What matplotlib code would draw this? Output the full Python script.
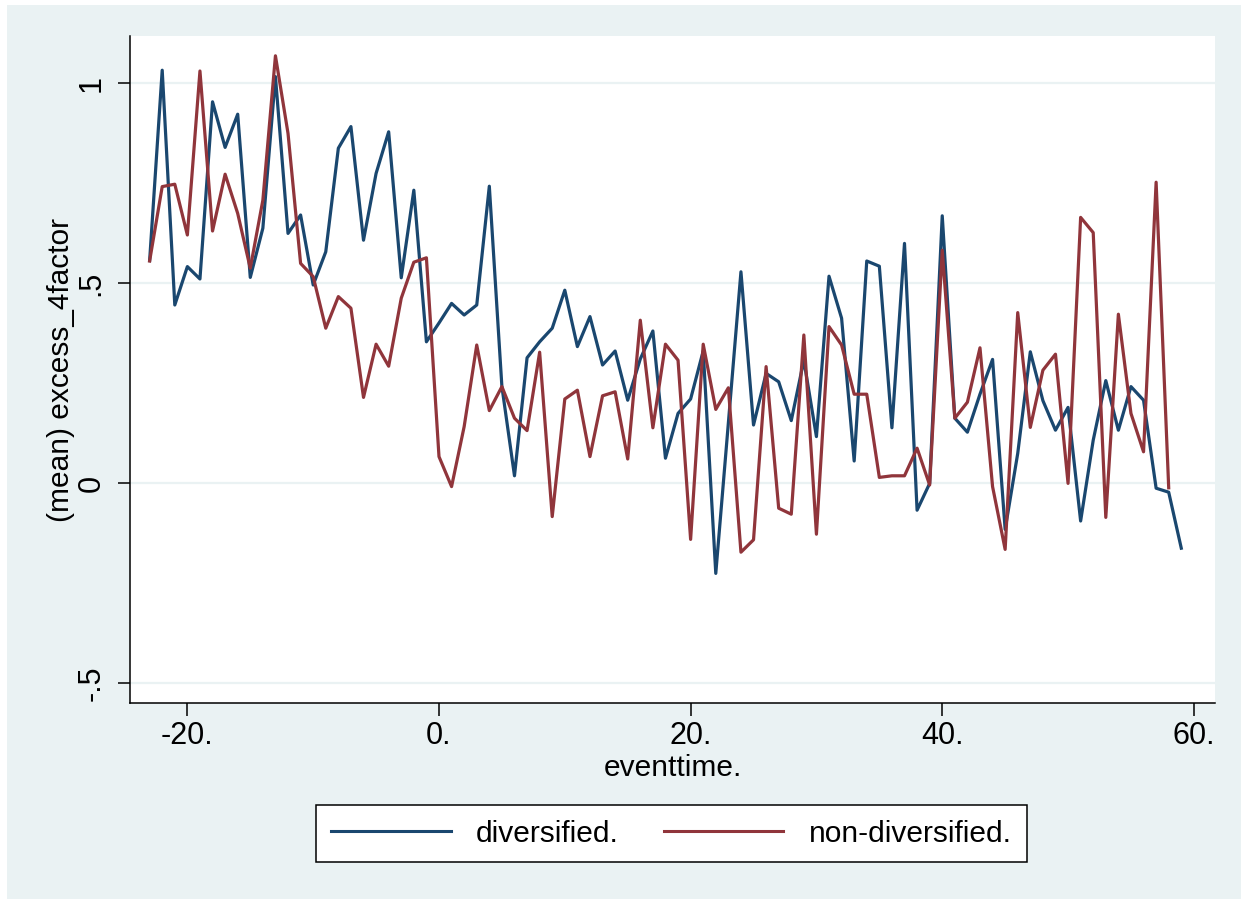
import matplotlib

matplotlib.use("Agg")
import matplotlib.pyplot as plt
from matplotlib.patches import Rectangle

plt.rcParams["font.family"] = ["Liberation Sans", "DejaVu Sans"]

NAVY = "#1a476f"
MAROON = "#90353b"
BG = "#eaf2f3"

eventtime_div = list(range(-23, 60))
eventtime_nondiv = list(range(-23, 59))

diversified = [
    0.556, 1.032, 0.445, 0.541, 0.510, 0.953, 0.839, 0.922, 0.514, 0.637,
    1.016, 0.624, 0.670, 0.495, 0.578, 0.837, 0.891, 0.607, 0.774, 0.878,
    0.513, 0.732, 0.353, 0.400, 0.449, 0.420, 0.445, 0.742, 0.241, 0.018,
    0.313, 0.353, 0.387, 0.482, 0.341, 0.416, 0.295, 0.330, 0.207, 0.310,
    0.380, 0.062, 0.174, 0.210, 0.330, -0.226, 0.150, 0.528, 0.145, 0.274,
    0.253, 0.156, 0.307, 0.116, 0.517, 0.412, 0.055, 0.555, 0.542, 0.138,
    0.599, -0.068, -0.001, 0.668, 0.162, 0.127, 0.222, 0.309, -0.116, 0.074,
    0.328, 0.206, 0.132, 0.189, -0.095, 0.107, 0.256, 0.132, 0.241, 0.207,
    -0.013, -0.023, -0.163,
]

non_diversified = [
    0.555, 0.741, 0.747, 0.620, 1.030, 0.630, 0.772, 0.674, 0.537, 0.707,
    1.068, 0.874, 0.549, 0.516, 0.387, 0.466, 0.437, 0.214, 0.347, 0.292,
    0.462, 0.552, 0.563, 0.066, -0.009, 0.141, 0.345, 0.181, 0.241, 0.162,
    0.131, 0.327, -0.084, 0.210, 0.232, 0.066, 0.218, 0.228, 0.060, 0.407,
    0.138, 0.347, 0.307, -0.141, 0.347, 0.184, 0.238, -0.173, -0.142, 0.291,
    -0.063, -0.078, 0.370, -0.128, 0.391, 0.345, 0.222, 0.222, 0.014, 0.018,
    0.018, 0.087, -0.005, 0.582, 0.162, 0.202, 0.338, -0.009, -0.166, 0.426,
    0.139, 0.282, 0.322, -0.001, 0.664, 0.626, -0.086, 0.422, 0.174, 0.078,
    0.752, -0.012,
]

x_ticks = [-20, 0, 20, 40, 60]
x_tick_labels = ["-20.", "0.", "20.", "40.", "60."]
y_ticks = [-0.5, 0, 0.5, 1]
y_tick_labels = ["-.5", "0", ".5", "1"]

W, H = 1241, 899
fig = plt.figure(figsize=(W / 100, H / 100), dpi=100)
fig.patch.set_facecolor(BG)
# thin white margin on top and left, as in the exported graph
fig.patches.append(Rectangle((0, 0), 7 / W, 1, transform=fig.transFigure,
                             facecolor="white", edgecolor="none", zorder=-1))
fig.patches.append(Rectangle((0, 1 - 5 / H), 1, 5 / H, transform=fig.transFigure,
                             facecolor="white", edgecolor="none", zorder=-1))

ax = fig.add_axes([130 / W, 1 - 703 / H, (1215 - 130) / W, (703 - 36) / H])
ax.set_facecolor("white")

ax.plot(eventtime_div, diversified, color=NAVY, lw=2.3, label="diversified.")
ax.plot(eventtime_nondiv, non_diversified, color=MAROON, lw=2.3,
        label="non-diversified.")

ax.set_xlim(-24.56, 61.68)
ax.set_ylim(-0.55, 1.1175)
ax.set_xticks(x_ticks)
ax.set_xticklabels(x_tick_labels)
ax.set_yticks(y_ticks)
ax.set_yticklabels(y_tick_labels, rotation=90, va="center")
ax.grid(axis="y", color=BG, lw=1.6)
ax.set_axisbelow(True)

for side in ("top", "right"):
    ax.spines[side].set_visible(False)
for side in ("left", "bottom"):
    ax.spines[side].set_linewidth(1.1)
    ax.spines[side].set_color("black")

ax.tick_params(axis="both", length=9, width=1.1, labelsize=22, color="black")
ax.tick_params(axis="x", pad=4)
ax.tick_params(axis="y", pad=8)

ax.set_xlabel("eventtime.", fontsize=21.5, labelpad=2)
ax.set_ylabel("(mean) excess_4factor", fontsize=21.5, labelpad=1)

leg = fig.legend(loc="center", bbox_to_anchor=(671.5 / W, 1 - 833.5 / H),
                 ncol=2, fontsize=21.5, frameon=True, fancybox=False,
                 framealpha=1, handlelength=4.0, handletextpad=0.85,
                 columnspacing=1.5, borderpad=0.5, borderaxespad=0)
leg.get_frame().set_edgecolor("black")
leg.get_frame().set_linewidth(1.1)
leg.get_frame().set_facecolor("white")
for line in leg.get_lines():
    line.set_linewidth(2.2)

fig.savefig("out.png", dpi=100, facecolor=fig.get_facecolor())
